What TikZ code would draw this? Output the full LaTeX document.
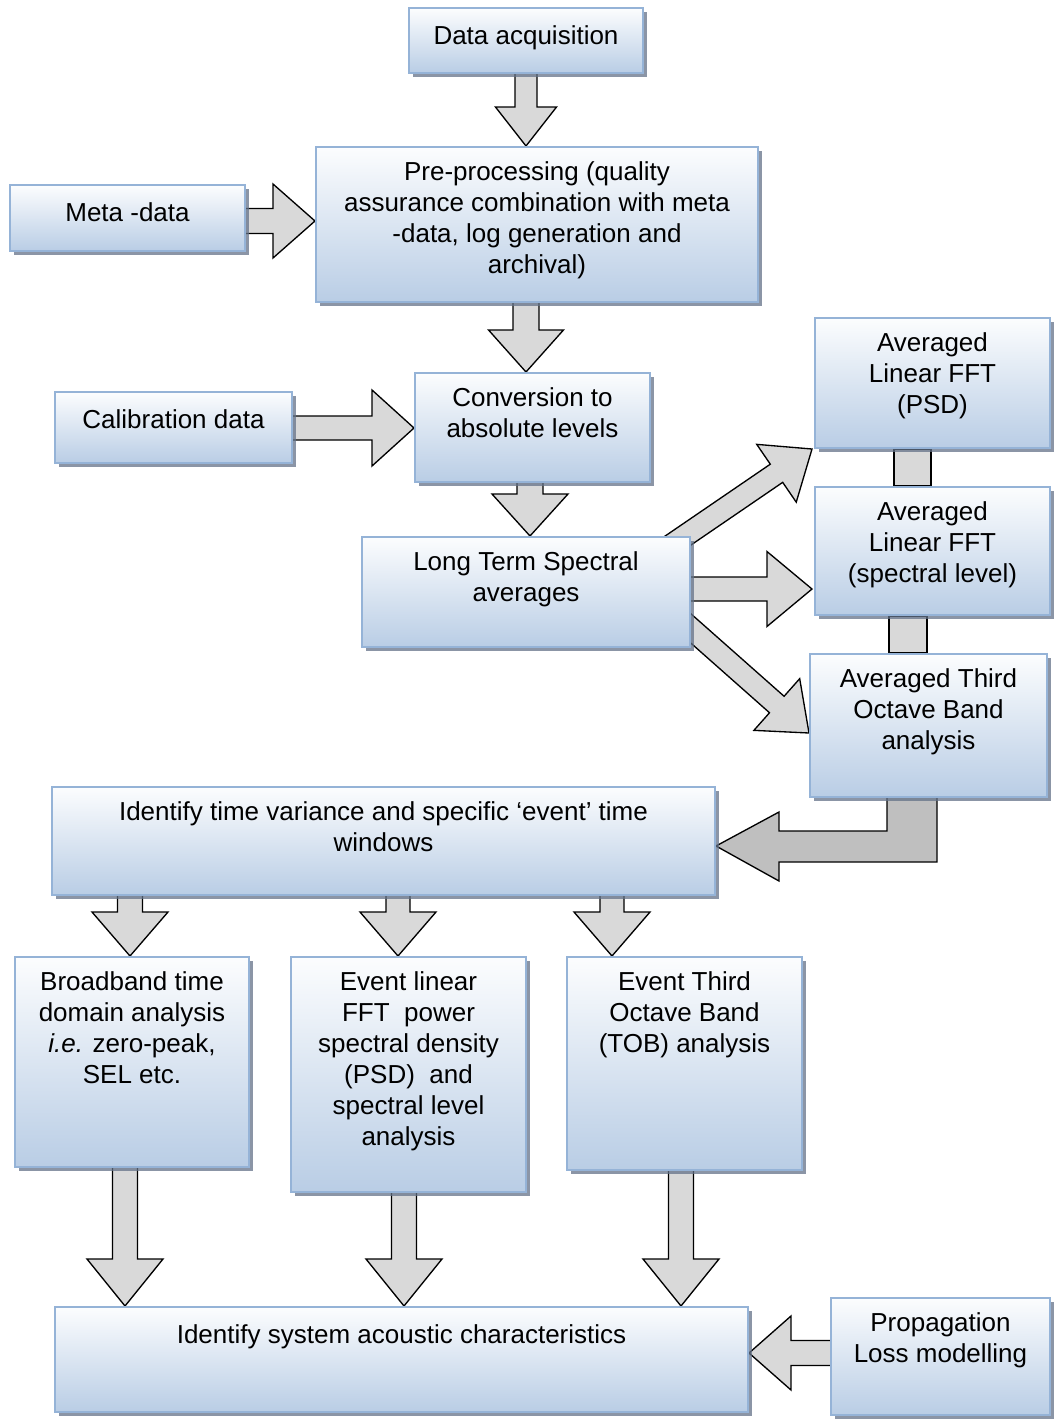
\documentclass[tikz,border=0pt]{standalone}
\usepackage{fontspec}
\setmainfont{Liberation Sans}
\usetikzlibrary{calc,fit,shadows}
\pgfdeclarelayer{bg}
\pgfsetlayers{bg,main}
\definecolor{boxtop}{RGB}{252,253,254}
\definecolor{boxbot}{RGB}{185,205,229}
\definecolor{boxline}{RGB}{149,179,215}
\definecolor{arrfill}{RGB}{217,217,217}
\definecolor{bentfill}{RGB}{191,191,191}
\definecolor{shadowc}{RGB}{100,114,136}
% #1 options, #2 start, #3 tip, #4 shaft half width, #5 head half width, #6 head length
\newcommand\blockarr[6][]{%
  \coordinate (hb) at ($(#3)!#6!(#2)$);
  \draw[blk,#1] ($(#2)!#4!90:(#3)$) -- ($(hb)!#4!90:(#3)$) -- ($(hb)!#5!90:(#3)$) -- (#3)
    -- ($(hb)!#5!-90:(#3)$) -- ($(hb)!#4!-90:(#3)$) -- ($(#2)!#4!-90:(#3)$) -- cycle;}
\newcommand\mybox[4]{%
  \node[box, fit={#2 #3}] (#1) {};
  \node[lbl] (#1-t) at ([yshift=-11.75pt]#1.north) {#4};}
\begin{document}
\begin{tikzpicture}[x=0.75pt,y=-0.75pt,
  box/.style={rectangle, inner sep=0pt, draw=boxline, line width=1.5pt,
    top color=boxtop, bottom color=boxbot,
    drop shadow={shadow xshift=3pt, shadow yshift=-3pt, fill=shadowc, opacity=0.75}},
  lbl/.style={anchor=north, inner sep=0pt, align=center,
    font=\fontsize{19.5pt}{23.2pt}\selectfont,
    execute at begin node={\rule{0pt}{16pt}}},
  blk/.style={fill=arrfill, draw=black, line width=1pt, line join=miter},
  bar/.style={fill=arrfill, draw=black, line width=1pt}]
\useasboundingbox (0,0) rectangle (1059,1425);

% boxes
\mybox{da}{(409,8)}{(643,73)}{Data acquisition}
\mybox{pre}{(316,147)}{(758,302)}{Pre-processing (quality\\assurance combination with meta\\-data, log generation and\\archival)}
\mybox{meta}{(10,185)}{(245,251)}{Meta -data}
\mybox{conv}{(415,373)}{(650,482)}{Conversion to\\absolute levels}
\mybox{cal}{(55,392)}{(292,463)}{Calibration data}
\mybox{lt}{(362,537)}{(690,647)}{Long Term Spectral\\averages}
\mybox{psd}{(815,318)}{(1050,448)}{Averaged\\Linear FFT\\(PSD)}
\mybox{sl}{(815,487)}{(1050,615)}{Averaged\\Linear FFT\\(spectral level)}
\mybox{tob}{(810,654)}{(1047,797)}{Averaged Third\\Octave Band\\analysis}
\mybox{itv}{(52,787)}{(715,895)}{Identify time variance and specific ‘event’ time\\windows}
\mybox{bb}{(15,957)}{(249,1167)}{Broadband time\\domain analysis\\\textit{i.e.} zero-peak,\\SEL etc.}
\mybox{el}{(291,957)}{(526,1192)}{Event linear\\FFT\ \ power\\spectral density\\(PSD)\ \ and\\spectral level\\analysis}
\mybox{et}{(567,957)}{(802,1170)}{Event Third\\Octave Band\\(TOB) analysis}
\mybox{isa}{(55,1307)}{(748,1412)}{Identify system acoustic characteristics}
\mybox{pl}{(831,1298)}{(1050,1415)}{Propagation\\Loss modelling}

\begin{pgfonlayer}{bg}
% vertical arrows
\coordinate (a1s) at ($(526,0 |- da.south)+(0,-6)$);   \coordinate (a1e) at (526,0 |- pre.north);
\blockarr{a1s}{a1e}{8.25pt}{22.9pt}{29.25pt}
\coordinate (a3s) at ($(526,0 |- pre.south)+(0,-6)$);  \coordinate (a3e) at (526,0 |- conv.north);
\blockarr{a3s}{a3e}{9.75pt}{28.1pt}{31.5pt}
\coordinate (a5s) at ($(530,0 |- conv.south)+(0,-6)$); \coordinate (a5e) at (530,0 |- lt.north);
\blockarr{a5s}{a5e}{9.75pt}{28.5pt}{31.5pt}
% horizontal arrows
\coordinate (a2s) at ($(meta.east |- 0,221)+(-6,0)$);  \coordinate (a2e) at (pre.west |- 0,221);
\blockarr{a2s}{a2e}{9.4pt}{27.75pt}{31.5pt}
\coordinate (a4s) at ($(cal.east |- 0,428)+(-6,0)$);   \coordinate (a4e) at (conv.west |- 0,428);
\blockarr{a4s}{a4e}{9pt}{28.5pt}{31.5pt}
\coordinate (a7s) at ($(lt.east |- 0,589)+(-6,0)$);    \coordinate (a7e) at ($(sl.west |- 0,589)+(-2,0)$);
\blockarr{a7s}{a7e}{9pt}{28.1pt}{33.75pt}
% diagonal arrows
\coordinate (a6s) at ($(lt.north east)+(-40,23)$);     \coordinate (a6e) at ($(psd.south west)+(-2,0)$);
\blockarr{a6s}{a6e}{8.25pt}{26.25pt}{32.25pt}
\coordinate (a8s) at ($(lt.south east)+(-30,-46)$);    \coordinate (a8e) at ($(tob.west)+(0,7.5)$);
\blockarr{a8s}{a8e}{8.25pt}{25.9pt}{32.25pt}
% connector bars between averaged boxes
\draw[bar] (894,0 |- psd.south) rectangle (931,0 |- sl.north);
\draw[bar] (889,0 |- sl.south) rectangle (927,0 |- tob.north);
% bent arrow into time variance box
\coordinate (bt) at ($(itv.east)+(0,5)$);
\draw[blk, fill=bentfill] (887,790) -- (887,831) -- (779,831) -- (779,812) -- (bt)
  -- (779,881) -- (779,862) -- (937,862) -- (937,790) -- cycle;
% arrows out of time variance box
\coordinate (a9s) at ($(130,0 |- itv.south)+(0,-6)$);  \coordinate (a9e) at (130,0 |- bb.north);
\blockarr{a9s}{a9e}{9.4pt}{28.5pt}{33pt}
\coordinate (a10s) at ($(398,0 |- itv.south)+(0,-6)$); \coordinate (a10e) at (398,0 |- el.north);
\blockarr{a10s}{a10e}{9pt}{28.5pt}{33pt}
\coordinate (a11s) at ($(612,0 |- itv.south)+(0,-6)$); \coordinate (a11e) at (612,0 |- et.north);
\blockarr{a11s}{a11e}{9pt}{28.5pt}{33pt}
% arrows into system characteristics box
\coordinate (a12s) at ($(125,0 |- bb.south)+(0,-6)$);  \coordinate (a12e) at (125,0 |- isa.north);
\blockarr{a12s}{a12e}{9.4pt}{28.5pt}{35.25pt}
\coordinate (a13s) at ($(404,0 |- el.south)+(0,-6)$);  \coordinate (a13e) at (404,0 |- isa.north);
\blockarr{a13s}{a13e}{9.4pt}{28.5pt}{35.25pt}
\coordinate (a14s) at ($(681,0 |- et.south)+(0,-6)$);  \coordinate (a14e) at (681,0 |- isa.north);
\blockarr{a14s}{a14e}{9.4pt}{28.5pt}{35.25pt}
\coordinate (a15s) at ($(pl.west |- 0,1353)+(6,0)$);   \coordinate (a15e) at (isa.east |- 0,1353);
\blockarr{a15s}{a15e}{9.4pt}{27.75pt}{31.5pt}
\end{pgfonlayer}
\end{tikzpicture}
\end{document}
